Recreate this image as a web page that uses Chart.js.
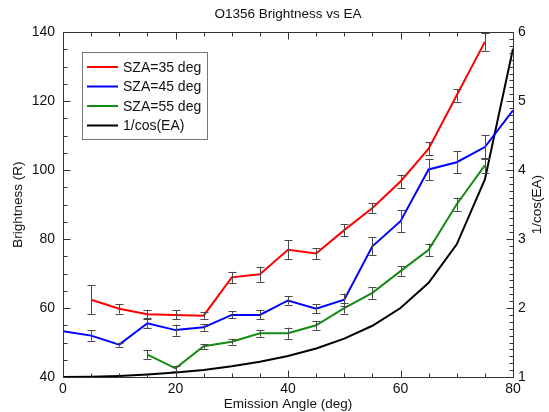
<!DOCTYPE html>
<html>
<head>
<meta charset="utf-8">
<script src="https://cdn.jsdelivr.net/npm/chart.js@4/dist/chart.umd.min.js"></script>
<style>
  body { margin: 0; background: #fff; }
  #wrap { width: 549px; height: 412px; position: relative; }
</style>
</head>
<body>
<div id="wrap"><canvas id="c"></canvas></div>
<script>
// emission angle (deg)
const angles = [0, 5, 10, 15, 20, 25, 30, 35, 40, 45, 50, 55, 60, 65, 70, 75, 80];

// brightness (R) per SZA
const sza35 = [null, 62.4, 59.8, 58.2, 58.0, 57.8, 68.9, 69.8, 76.9, 75.8, 82.6, 89.0, 96.7, 106.2, 121.7, 137.2, null];
const sza35Err = [null, 4.2, 1.4, 1.3, 1.3, 1.0, 1.6, 2.2, 2.8, 1.6, 1.7, 1.5, 2.0, 1.9, 1.8, 2.6, null];
const sza45 = [53.3, 52.0, 49.4, 55.6, 53.6, 54.4, 58.0, 58.0, 62.2, 59.8, 62.4, 77.9, 85.2, 100.2, 102.3, 106.7, 117.3];
const sza45Err = [null, 1.5, 0.6, 1.4, 1.6, 1.0, 1.0, 1.3, 1.2, 1.3, 1.8, 2.6, 3.1, 3.1, 3.2, 3.4, null];
const sza55 = [null, null, null, 46.5, 42.5, 48.9, 50.2, 52.7, 52.7, 55.0, 60.0, 64.4, 70.7, 76.9, 90.1, 101.4, null];
const sza55Err = [null, null, null, 1.2, 0.8, 0.7, 0.8, 1.0, 1.6, 1.3, 1.6, 1.7, 1.5, 1.8, 1.9, 2.2, null];

// 1/cos(EA), right axis
const invCos = [1.000, 1.004, 1.015, 1.035, 1.064, 1.103, 1.155, 1.221, 1.305, 1.414, 1.556, 1.743, 2.000, 2.366, 2.924, 3.864, 5.759];

const FONT = '"Liberation Sans", Helvetica, Arial, sans-serif';

function pts(vals) {
  const out = [];
  angles.forEach((a, i) => { if (vals[i] != null) out.push({ x: a, y: vals[i] }); });
  return out;
}

const series = [
  { label: 'SZA=35 deg', vals: sza35, err: sza35Err, color: '#ff0000', axis: 'y' },
  { label: 'SZA=45 deg', vals: sza45, err: sza45Err, color: '#0000ff', axis: 'y' },
  { label: 'SZA=55 deg', vals: sza55, err: sza55Err, color: '#138c13', axis: 'y' },
  { label: '1/cos(EA)', vals: invCos, err: null, color: '#000000', axis: 'y2' },
];

// error bars drawn from the value/error arrays through the y scale
const errorBars = {
  id: 'errorBars',
  afterDatasetsDraw(chart) {
    const { ctx, scales } = chart;
    ctx.save();
    ctx.strokeStyle = '#4a4a4a';
    ctx.lineWidth = 1;
    series.forEach(s => {
      if (!s.err) return;
      angles.forEach((a, i) => {
        if (s.vals[i] == null || s.err[i] == null) return;
        const x = Math.round(scales.x.getPixelForValue(a)) + 0.5;
        const y1 = scales.y.getPixelForValue(s.vals[i] + s.err[i]);
        const y2 = scales.y.getPixelForValue(s.vals[i] - s.err[i]);
        ctx.beginPath();
        ctx.moveTo(x, y1); ctx.lineTo(x, y2);
        ctx.moveTo(x - 4, Math.round(y1) + 0.5); ctx.lineTo(x + 4, Math.round(y1) + 0.5);
        ctx.moveTo(x - 4, Math.round(y2) + 0.5); ctx.lineTo(x + 4, Math.round(y2) + 0.5);
        ctx.stroke();
      });
    });
    ctx.restore();
  }
};

// frame with inward ticks, right axis title and boxed legend
const frame = {
  id: 'frame',
  afterDraw(chart) {
    const { ctx, chartArea: ca, scales } = chart;
    const L = Math.round(ca.left) + 0.5, R = Math.round(ca.right) + 0.5;
    const T = Math.round(ca.top) + 0.5, B = Math.round(ca.bottom) + 0.5;
    ctx.save();
    ctx.strokeStyle = '#333';
    ctx.lineWidth = 1;
    ctx.strokeRect(L, T, R - L, B - T);
    ctx.beginPath();
    for (let v = 0; v <= 80; v += 5) {
      const x = Math.round(scales.x.getPixelForValue(v)) + 0.5;
      const len = v % 20 === 0 ? 7 : 4;
      ctx.moveTo(x, B); ctx.lineTo(x, B - len);
      ctx.moveTo(x, T); ctx.lineTo(x, T + len);
    }
    for (let v = 40; v <= 140; v += 5) {
      const y = Math.round(scales.y.getPixelForValue(v)) + 0.5;
      const len = v % 20 === 0 ? 7 : 4;
      ctx.moveTo(L, y); ctx.lineTo(L + len, y);
    }
    for (let k = 10; k <= 60; k++) {
      const y = Math.round(scales.y2.getPixelForValue(k / 10)) + 0.5;
      const len = k % 10 === 0 ? 7 : 4;
      ctx.moveTo(R, y); ctx.lineTo(R - len, y);
    }
    ctx.stroke();

    // right axis title reads bottom to top
    ctx.fillStyle = '#111';
    ctx.font = '13.5px ' + FONT;
    ctx.textAlign = 'center';
    ctx.textBaseline = 'middle';
    ctx.translate(537, (ca.top + ca.bottom) / 2);
    ctx.rotate(-Math.PI / 2);
    ctx.fillText('1/cos(EA)', 0, 0);
    ctx.restore();

    // legend
    ctx.save();
    ctx.fillStyle = '#fff';
    ctx.fillRect(82.5, 52.5, 125, 87);
    ctx.strokeStyle = '#777';
    ctx.strokeRect(82.5, 52.5, 125, 87);
    ctx.font = '14px ' + FONT;
    ctx.textBaseline = 'middle';
    ctx.textAlign = 'left';
    series.forEach((s, i) => {
      const y = 67 + i * 19.5;
      ctx.strokeStyle = s.color;
      ctx.lineWidth = 2;
      ctx.beginPath();
      ctx.moveTo(87, y); ctx.lineTo(118, y);
      ctx.stroke();
      ctx.fillStyle = '#111';
      ctx.fillText(s.label, 123, y + 1);
    });
    ctx.restore();
  }
};

const noGrid = { display: false, drawTicks: false, tickLength: 0 };

new Chart(document.getElementById('c'), {
  type: 'line',
  data: {
    datasets: series.map(s => ({
      label: s.label,
      data: pts(s.vals),
      borderColor: s.color,
      backgroundColor: s.color,
      borderWidth: 2,
      pointRadius: 0,
      tension: 0,
      fill: false,
      yAxisID: s.axis,
    })),
  },
  options: {
    responsive: true,
    maintainAspectRatio: false,
    animation: false,
    devicePixelRatio: 1,
    layout: { padding: 0 },
    plugins: {
      legend: { display: false },
      tooltip: { enabled: false },
      title: {
        display: true,
        text: 'O1356 Brightness vs EA',
        fullSize: false,
        color: '#111',
        font: { family: FONT, size: 13.5, weight: 'normal' },
        padding: { top: 6, bottom: 10 },
      },
    },
    scales: {
      x: {
        type: 'linear', min: 0, max: 80,
        grid: noGrid, border: { display: false },
        ticks: { stepSize: 20, padding: 4, maxRotation: 0, color: '#111', font: { family: FONT, size: 14 } },
        title: { display: true, text: 'Emission Angle (deg)', color: '#111', padding: { top: 0, bottom: 0 }, font: { family: FONT, size: 13.5 } },
        afterFit(s) { s.height = 35; },
      },
      y: {
        type: 'linear', position: 'left', min: 40, max: 140,
        grid: noGrid, border: { display: false },
        ticks: { stepSize: 20, padding: 8, color: '#111', font: { family: FONT, size: 14 } },
        title: { display: true, text: 'Brightness (R)', color: '#111', padding: { top: 10, bottom: 0 }, font: { family: FONT, size: 13.5 } },
        afterFit(s) { s.width = 63; },
      },
      y2: {
        type: 'linear', position: 'right', min: 1, max: 6,
        grid: noGrid, border: { display: false },
        ticks: { stepSize: 1, padding: 5, color: '#111', font: { family: FONT, size: 14 } },
        afterFit(s) { s.width = 36; },
      },
    },
  },
  plugins: [errorBars, frame],
});
</script>
</body>
</html>
